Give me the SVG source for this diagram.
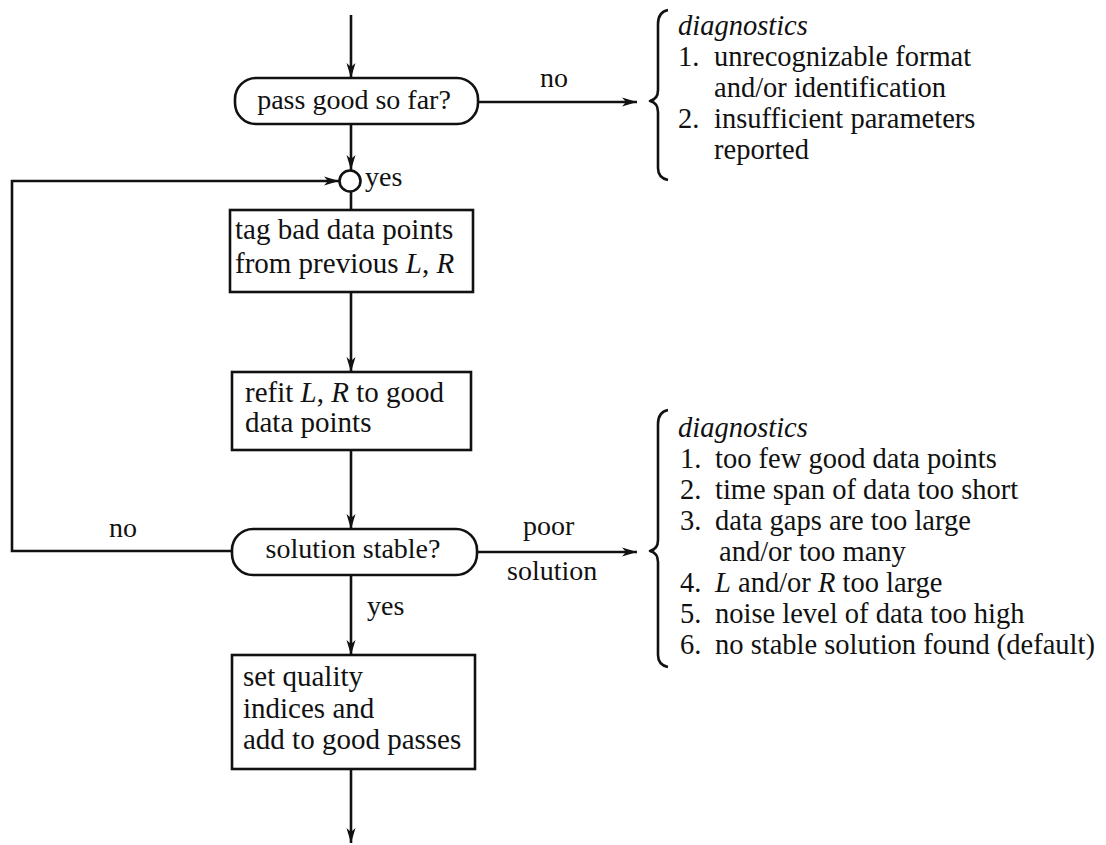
<svg xmlns="http://www.w3.org/2000/svg" width="1106" height="845" viewBox="0 0 1106 845">
<style>
text { font-family: "Liberation Serif", "Times New Roman", serif; font-size: 28px; fill: #111; }
.box { font-size: 29px; }
.dg { font-size: 28.5px; }
.it { font-style: italic; }
.shape { fill: #fff; stroke: #111; stroke-width: 2.6; }
.line { fill: none; stroke: #111; stroke-width: 2.6; }
.brace { fill: none; stroke: #111; stroke-width: 2.6; stroke-linejoin: round; }
</style>
<defs>
<marker id="arr" markerUnits="userSpaceOnUse" markerWidth="16" markerHeight="10" refX="15" refY="5" orient="auto" viewBox="0 0 16 10">
<path d="M0,0.5 L15,5 L0,9.5 L4,5 Z" fill="#111"/>
</marker>
</defs>
<rect width="1106" height="845" fill="#fff"/>

<g id="connectors">
<line class="line" x1="351" y1="15" x2="351" y2="78" marker-end="url(#arr)"/>
<line class="line" x1="478" y1="102" x2="637" y2="102" marker-end="url(#arr)"/>
<line class="line" x1="351" y1="124" x2="351" y2="170" marker-end="url(#arr)"/>
<line class="line" x1="351" y1="192" x2="351" y2="210"/>
<line class="line" x1="351" y1="292" x2="351" y2="372" marker-end="url(#arr)"/>
<line class="line" x1="351" y1="450" x2="351" y2="529" marker-end="url(#arr)"/>
<polyline class="line" points="232,551 12,551 12,181 339,181" marker-end="url(#arr)"/>
<line class="line" x1="477" y1="552" x2="637" y2="552" marker-end="url(#arr)"/>
<line class="line" x1="351" y1="575" x2="351" y2="655" marker-end="url(#arr)"/>
<line class="line" x1="351" y1="769" x2="351" y2="843" marker-end="url(#arr)"/>
<text x="540" y="87">no</text>
<text x="365" y="186">yes</text>
<text x="109" y="537">no</text>
<text x="523" y="535">poor</text>
<text x="507" y="580">solution</text>
<text x="367" y="615">yes</text>
</g>

<g id="decision1">
<rect class="shape" x="235" y="78" width="243" height="46" rx="21" ry="21"/>
<text x="354" y="109" text-anchor="middle">pass good so far?</text>
</g>

<g id="junction">
<circle class="shape" cx="350" cy="181" r="10.5"/>
</g>

<g id="tag">
<rect class="shape" x="230" y="210" width="243" height="82"/>
<text class="box" x="235" y="239">tag bad data points</text>
<text class="box" x="235" y="273">from previous <tspan class="it">L</tspan>, <tspan class="it">R</tspan></text>
</g>

<g id="refit">
<rect class="shape" x="232" y="372" width="239" height="78"/>
<text class="box" x="245" y="402">refit <tspan class="it">L</tspan>, <tspan class="it">R</tspan> to good</text>
<text class="box" x="245" y="432">data points</text>
</g>

<g id="decision2">
<rect class="shape" x="232" y="529" width="245" height="46" rx="21" ry="21"/>
<text x="353" y="558" text-anchor="middle">solution stable?</text>
</g>

<g id="setquality">
<rect class="shape" x="232" y="655" width="243" height="114"/>
<text class="box" x="243" y="686">set quality</text>
<text class="box" x="243" y="718">indices and</text>
<text class="box" x="243" y="749">add to good passes</text>
</g>

<g id="diag1">
<path class="brace" d="M668,10 Q658,12 658,24 L658,90 Q658,99 650,101 Q658,103 658,112 L658,168 Q658,178 668,180"/>
<text class="dg it" x="678" y="35">diagnostics</text>
<text class="dg" x="678" y="66">1.</text><text class="dg" x="714" y="66">unrecognizable format</text>
<text class="dg" x="714" y="97">and/or identification</text>
<text class="dg" x="678" y="128">2.</text><text class="dg" x="714" y="128">insufficient parameters</text>
<text class="dg" x="714" y="159">reported</text>
</g>

<g id="diag2">
<path class="brace" d="M668,410 Q658,412 658,424 L658,540 Q658,549 650,551 Q658,553 658,562 L658,655 Q658,665 668,667"/>
<text class="dg it" x="678" y="437">diagnostics</text>
<text class="dg" x="680" y="468">1.</text><text class="dg" x="715" y="468">too few good data points</text>
<text class="dg" x="680" y="499">2.</text><text class="dg" x="715" y="499">time span of data too short</text>
<text class="dg" x="680" y="530">3.</text><text class="dg" x="715" y="530">data gaps are too large</text>
<text class="dg" x="719" y="561">and/or too many</text>
<text class="dg" x="680" y="592">4.</text><text class="dg" x="715" y="592"><tspan class="it">L</tspan> and/or <tspan class="it">R</tspan> too large</text>
<text class="dg" x="680" y="623">5.</text><text class="dg" x="715" y="623">noise level of data too high</text>
<text class="dg" x="680" y="654">6.</text><text class="dg" x="715" y="654">no stable solution found (default)</text>
</g>
</svg>
